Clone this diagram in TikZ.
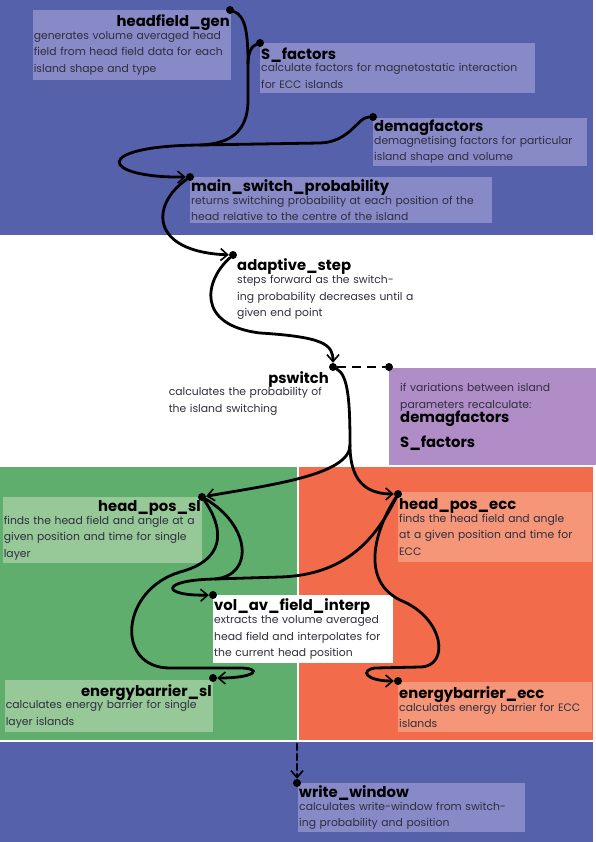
\documentclass[tikz,border=0pt]{standalone}
\usepackage{fontspec}
\setmainfont{Poppins}
\usepackage{tikz}
\usetikzlibrary{arrows.meta}
\definecolor{bandblue}{HTML}{5661AB}
\definecolor{boxblue}{HTML}{8889C7}
\definecolor{bandgreen}{HTML}{5FAE6E}
\definecolor{boxgreen}{HTML}{97C898}
\definecolor{bandred}{HTML}{F26B4B}
\definecolor{boxred}{HTML}{F59678}
\definecolor{boxpurple}{HTML}{B08DC6}
\definecolor{bodygray}{HTML}{2E2E3E}
\tikzstyle{ball} = [circle, fill=black, minimum size=8pt, inner sep=0pt]
\tikzset{>={Straight Barb[length=7pt,width=12pt,line width=1.6pt]}}
\tikzset{link/.style={line width=2.8pt, line cap=round},
    infobox/.style={inner xsep=1pt, inner ysep=2pt, align=left,
        font=\fontsize{10.8}{16.5}\selectfont, text=bodygray}}
\newcommand{\fname}[1]{{\color{black}\bfseries\fontsize{14.8}{14}\selectfont #1}}

\begin{document}
\begin{tikzpicture}[x=1pt,y=-1pt]
\useasboundingbox (0,0) rectangle (595,842);
% bands
\fill[bandblue] (0,0) rectangle (593,235);
\fill[bandgreen] (0,467) rectangle (297,740);
\fill[bandred] (299,467) rectangle (593,740);
\fill[bandblue] (0,742) rectangle (593,842);
% setup part
\node[infobox, fill=boxblue, text width=196pt, minimum height=70pt, anchor=north east]
    (hgtxt) at (231,10) {\hfill\fname{headfield\_gen}\\[-4pt]
    generates volume averaged head\\ field from head field data for each\\ island shape and type};
\node[infobox, fill=boxblue, text width=273pt, minimum height=50pt, anchor=north west]
    (sftxt) at (260,43) {\fname{S\_factors}\\[-4pt]
    calculate factors for magnetostatic interaction\\ for ECC islands};
\node[infobox, fill=boxblue, text width=212pt, minimum height=45pt, anchor=north west]
    (dmtxt) at (373,118) {\fname{demagfactors}\\[-4pt]
    demagnetising factors for particular\\ island shape and volume};
\node[infobox, fill=boxblue, text width=300pt, minimum height=46pt, anchor=north west]
    (msptxt) at (190,177) {\fname{main\_switch\_probability}\\[-4pt]
    returns switching probability at each position of the\\ head relative to the centre of the island};
% stepping
\node[infobox, text width=185pt, anchor=north west]
    (astxt) at (236,256) {\fname{adaptive\_step}\\[-3pt]
    steps forward as the switch-\\ ing probability decreases until a\\ given end point};
\node[infobox, text width=160pt, anchor=north east]
    (pstxt) at (330,369) {\hfill\fname{pswitch}\\[-4pt]
    calculates the probability of\\ the island switching};
\node[infobox, fill=boxpurple, text width=185pt, minimum height=97pt, inner xsep=11pt, anchor=north west]
    (recalc) at (389,368) {if variations between island\\ parameters recalculate:\\[-2pt]
    \fname{demagfactors}\\[8pt] \fname{S\_factors}};
% single layer / ecc
\node[infobox, fill=boxgreen, text width=197pt, minimum height=66pt, anchor=north east]
    (hpstxt) at (202,497) {\hfill\fname{head\_pos\_sl}\\[-4pt]
    finds the head field and angle at a\\ given position and time for single\\ layer};
\node[infobox, fill=boxred, text width=192pt, minimum height=70pt, anchor=north west]
    (hpetxt) at (398,492) {\fname{head\_pos\_ecc}\\[-4pt]
    finds the head field and angle\\ at a given position and time for\\ ECC};
\node[infobox, fill=white, text width=178pt, minimum height=68pt, anchor=north west]
    (voltxt) at (213,595) {\fname{vol\_av\_field\_interp}\\[-3pt]
    extracts the volume averaged\\ head field and interpolates for\\ the current head position};
\node[infobox, fill=boxgreen, text width=206pt, minimum height=52pt, anchor=north east]
    (ebstxt) at (213,680) {\hfill\fname{energybarrier\_sl}\\[-4pt]
    calculates energy barrier for single\\ layer islands};
\node[infobox, fill=boxred, text width=192pt, minimum height=50pt, anchor=north west]
    (ebetxt) at (398,682) {\fname{energybarrier\_ecc}\\[-4pt]
    calculates energy barrier for ECC\\ islands};
% output
\node[infobox, fill=boxblue, text width=225pt, minimum height=49pt, anchor=north west]
    (wwtxt) at (298,783) {\fname{write\_window}\\[-4pt]
    calculates write-window from switch-\\ ing probability and position};
% dots
\node[ball] (hg) at (230,10) {};
\node[ball] (sf) at (260,43) {};
\node[ball] (dm) at (373,117) {};
\node[ball] (msp) at (190,177) {};
\node[ball] (as) at (233,255) {};
\node[ball] (ps) at (333,367) {};
\node[ball] (pd) at (389,367) {};
\node[ball] (hps) at (202,497) {};
\node[ball] (hpe) at (398,494) {};
\node[ball] (vol) at (213,595) {};
\node[ball] (ebs) at (213,678) {};
\node[ball] (ebe) at (398,681) {};
\node[ball] (ww) at (297,783) {};
\coordinate (k1) at (248,64);   %join S_factors
\coordinate (m1) at (200,145);  %merge top
\coordinate (m2) at (350,445);  %split
\coordinate (m3) at (215,579);  %merge vol
\coordinate (wws) at (297,744);
% connectors
\draw[link] (hg) .. controls (246,16) and (248,35) .. (k1) -- (248,100)
    .. controls (248,138) and (222,144) .. (m1);
\draw[link] (sf) .. controls (252,46) and (248,52) .. (k1);
\draw[link] (dm) .. controls (358,117) and (350,142) .. (320,143) -- (m1);
\draw[link,->] (m1) .. controls (90,146) and (100,178) .. (msp);
\draw[link,->] (msp) .. controls (150,205) and (150,252) .. (as);
\draw[link,->] (as) .. controls (205,280) and (195,325) .. (260,333)
    .. controls (325,337) and (333,345) .. (ps);
\draw[link,dashed,dash pattern=on 9pt off 6pt,line cap=butt] (ps) -- (pd);
\draw[link] (ps) .. controls (348,375) and (350,400) .. (m2);
\draw[link,->] (m2) .. controls (350,475) and (270,485) .. (hps);
\draw[link,->] (m2) .. controls (350,480) and (365,494) .. (hpe);
\draw[link] (hps) .. controls (250,525) and (255,575) .. (m3);
\draw[link] (hpe) .. controls (375,540) and (345,575) .. (280,577) -- (m3);
\draw[link,->] (m3) .. controls (160,580) and (160,596) .. (vol);
\draw[link,->] (hps) .. controls (225,530) and (225,560) .. (180,572)
    .. controls (120,590) and (115,668) .. (170,668) -- (240,668)
    .. controls (262,668) and (258,678) .. (ebs);
\draw[link,->] (hpe) .. controls (375,530) and (360,580) .. (400,600)
    .. controls (445,618) and (450,667) .. (420,667) -- (375,668)
    .. controls (360,670) and (365,681) .. (ebe);
\draw[link,->,dash pattern=on 6pt off 4pt] (wws) -- (ww);
\end{tikzpicture}
\end{document}
